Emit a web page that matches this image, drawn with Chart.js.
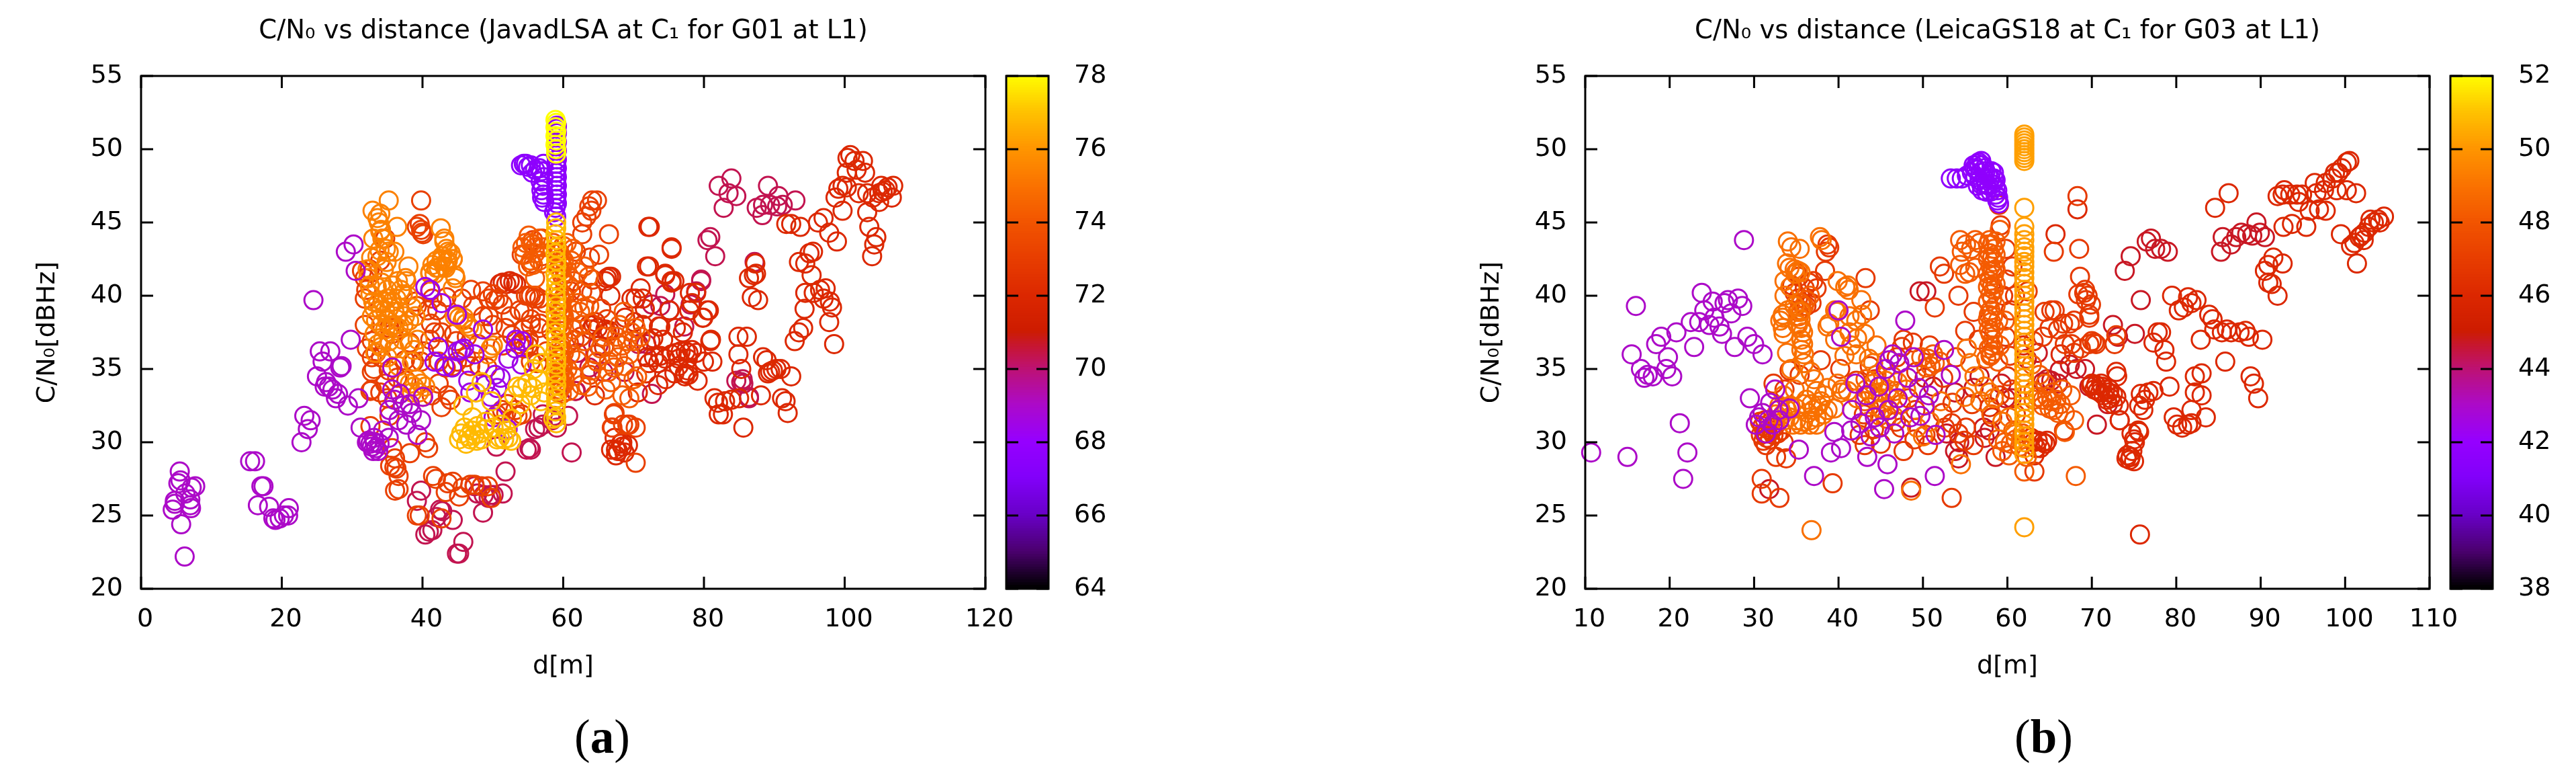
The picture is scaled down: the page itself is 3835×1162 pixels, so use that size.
<!DOCTYPE html>
<html>
<head>
<meta charset="utf-8">
<title>C/N0 vs distance</title>
<script src="https://cdn.jsdelivr.net/npm/chart.js@4"></script>
<style>
  body { margin: 0; background: #fff; width: 3835px; height: 1162px; position: relative; overflow: hidden; }
  canvas { position: absolute; top: 0; }
  .tag { position: absolute; top: 1056px; font: 71px "Liberation Serif"; color: #000; }
</style>
</head>
<body>
<canvas id="scatterA" width="1527" height="1040" style="left:0"></canvas>
<canvas id="barA" width="250" height="1040" style="left:1470px"></canvas>
<canvas id="scatterB" width="1527" height="1040" style="left:2150px"></canvas>
<canvas id="barB" width="220" height="1040" style="left:3620px"></canvas>
<div class="tag" style="left:855px">(<b>a</b>)</div>
<div class="tag" style="left:2999px">(<b>b</b>)</div>
<script>
//ticks
const cnTicks = [20, 25, 30, 35, 40, 45, 50, 55];
const distTicksA = [0, 20, 40, 60, 80, 100, 120];
const distTicksB = [10, 20, 30, 40, 50, 60, 70, 80, 90, 100, 110];
const barTicksA = [64, 66, 68, 70, 72, 74, 76, 78];
const barTicksB = [38, 40, 42, 44, 46, 48, 50, 52];

//colour box: position 0..1 and rgb
const stopPos = [0, 0.07, 0.143, 0.214, 0.286, 0.357, 0.43, 0.47, 0.5, 0.571, 0.643, 0.714, 0.786, 0.857, 0.929, 1];
const stopRgb = [[0,0,0],[75,0,110],[105,0,200],[130,0,250],[150,0,255],[172,10,200],[190,18,110],[198,22,50],[205,28,0],[220,40,0],[232,62,0],[242,85,0],[250,115,0],[255,150,0],[255,195,0],[255,255,0]];

/////panel a: [distance, C/N0] by colour level//////////////////////////////
const a_z78 = [[58.9,52],[59,51.8],[58.9,51.5],[59,51.2],[58.9,50.9],[59,50.6],[58.9,50.3],[59,50],[59,49.7]];
const a_z676 = [[54.7,49],[54,48.9],[55.4,48.9],[54.4,49],[55,48.8],[55.6,48.4],[56,48.6],[56.6,48.7],[57.2,49],[56.9,48.5],[57.2,48.1],[56.8,47.8],[57.1,47.5],[56.9,47.2],[57.2,46.9],[57,46.7],[57.3,46.4],[58.7,45.7],[59,45.4],[58.9,46],[59.1,46.3],[59,46.6],[59.1,46.9],[59,47.2],[59.1,47.5],[59,47.8],[59.1,48.1],[59,48.4],[59.1,48.7],[59,49],[59.1,49.3],[59,49.6],[59.1,49.9],[59,50.2],[59.1,50.5],[59,50.8],[59.1,51.1],[59.05,51.4],[59.1,51.6]];
const a_z768 = [[59,45],[59,44.6],[58.9,44.2],[59,43.8],[59,43.3],[58.9,42.9],[59,42.4],[59,42],[58.9,41.5],[59,41.1],[59,40.7],[58.9,40.2],[59,39.8],[59,39.3],[58.9,38.9],[59,38.4],[59,38],[58.9,37.5],[59,37.1],[59,36.6],[58.9,36.2],[59,35.7],[59,35.3],[58.9,34.8],[59,34.4],[59,33.9],[58.9,33.5],[59,33],[59,32.6],[58.9,32.1],[59,31.7],[59,31.3],[46.8,30.2],[46.2,29.9],[47.4,30.5],[48.1,30.6],[47.8,31.1],[48.4,30.2],[47.1,31.7],[49,31.4],[45.5,30.6],[45.2,30.2],[45.8,32.5],[46.5,30.4],[47.7,30.1],[51.6,30.2],[52.2,30.3],[51,30.3],[50.6,30.2],[51.9,30.8],[52.6,30.1],[55.7,33.7],[54.9,34],[56.4,34.3],[57.3,33.4],[54.1,33.7],[53.5,33.8],[55.4,33.2],[48.4,34.1],[47.6,33.4],[49.8,32.8],[53,33.2],[56.8,32.8],[58.6,31.6],[46,31],[47,30.8],[48.8,30.9],[50.1,31],[51.2,31.2],[52.7,31.6],[53.9,32.6],[55.8,35],[57,35.4],[56.1,36]];
const a_z69 = [[5.5,28],[5.6,27.4],[5.3,27.2],[7.7,27],[7.2,26.9],[6.3,26.5],[4.8,26],[4.8,25.8],[4.5,25.4],[7,26.1],[7.1,25.5],[7,25.7],[5.7,24.4],[6.2,22.2],[15.5,28.7],[16.2,28.7],[17.4,27],[17.1,27],[16.6,25.7],[18.2,25.6],[18.8,24.8],[19.1,24.7],[19.7,24.8],[20.3,25],[20.9,25],[21,25.5],[23.2,31.8],[24.1,31.5],[23.7,30.9],[22.8,30],[30.2,43.5],[29.1,43],[30.5,41.7],[24.5,39.7],[29.8,37],[25.4,36.2],[26.9,36.2],[25.8,35.5],[28.5,35.2],[28.3,35.1],[25,34.5],[26.3,34.1],[26.7,33.8],[28,33.3],[27.7,33],[29.4,32.5],[30.9,33],[27.2,33.6],[26.1,33.8],[31.2,31],[32.3,30.1],[33.1,30.3],[34.4,30.8],[32.8,29.7],[33.4,29.6],[33.7,29.4],[33,29.4],[32.1,30],[33.9,29.9],[35.2,30.3],[32.6,29.9],[33.2,30],[35.7,33.6],[36,32.9],[35.3,32.2],[37.2,32.5],[38.2,32.6],[38.5,32],[39.8,31.5],[37.7,31.2],[39.3,30.5],[36.6,31.5],[40.1,33.1],[36.8,33.3],[35.7,35.1]];
const a_z684 = [[42.2,36.5],[41.7,35.5],[44.2,35.1],[45.5,36.3],[45,36.2],[43.1,35.2],[45.9,36.4],[41.1,40.4],[40.4,40.6],[42.7,39.5],[44.9,38.7],[48.6,37.7],[47.4,36],[46.5,34.2],[46.8,33.4],[50.1,31.7],[50.3,34.6],[51.1,34.4],[50.6,33.7],[49.7,33.1],[53.3,37],[54.1,36.9],[52.2,35.7],[54.1,35.3],[52.1,30.9],[48.9,33.9],[53.2,36.4]];
const a_z754 = [[32.9,45.8],[35.2,46.5],[36.4,44.7],[34,45.6],[33.8,45],[34,44.4],[34.3,43.9],[33.6,45.3],[34.1,44.5],[34.4,43.9],[34.8,43.2],[42.6,44.6],[43.1,43.9],[43.4,43.2],[44.3,42.5],[42,42.4],[42.8,42.5],[43.4,42.3],[42,41.9],[41.1,41.5],[43.1,42],[44.6,41.4],[44.3,40.5],[38,42],[37.6,41.2],[35.2,43],[36,43],[32.2,41.8],[32.3,41.2],[32.5,40.7],[32.6,40.1],[33,39.6],[33.1,39.2],[33.7,39.5],[34.4,39.6],[35,39.8],[35.7,39.6],[36.3,39.8],[34.1,39],[34.7,39],[35.3,39.2],[36,38.9],[36.6,39.2],[37.2,40.1],[36.9,40.4],[37.7,41],[37.9,40],[38.5,39.2],[33.4,38.3],[34.1,38],[34.7,37.7],[34.4,37],[33.7,36.7],[35.3,36.9],[36,36.4],[36.6,37.8],[37.2,37],[38.2,36.7],[38.8,36.3],[39.3,37],[38.5,35.5],[39.2,34.3],[38.8,33.8],[39.8,34],[40.4,33.8],[38.5,33.4],[39.5,33.4],[40,33.1],[38.2,34],[41.4,42.1],[42.7,42.4],[43.6,42.4],[44.3,42.5],[42.3,41.9],[43.3,41.9],[44.7,41.2],[41.1,41.6],[41.7,41.5],[43.1,43.7],[43.6,43],[42.8,42.7],[44,42.9],[44.9,38.7],[45.2,38.5],[45.7,38.3],[46.2,38.1],[46.6,37.9],[47.1,37.7],[44.6,38.6],[45.9,38.5],[49.7,36.4],[49.3,36],[50,36.6],[36,38],[35,38.3],[37.5,38.6],[33.2,37.4],[35,35.8],[36.6,35.2],[32.8,38.6],[33.5,40.6],[34.2,40.9],[35,40.4],[35.8,40.7],[36.5,41],[34.5,41.8],[33.6,42.7],[34.9,42.3],[33.3,36.1],[34.1,36.5],[35.6,37.9],[36.3,38.4],[37.3,38],[38.1,38.3],[39,38.6],[33,43.9],[33.9,43.1],[32.7,42.6]];
const a_z742 = [[59.5,42.9],[59.8,42.6],[59.6,42.3],[59.9,42],[59.6,41.7],[59.8,41.4],[59.5,40],[59.8,39.7],[59.6,39.4],[59.9,39.1],[59.6,38.8],[59.8,38.5],[59.5,38.2],[59.8,37.9],[59.6,37.6],[59.7,36.6],[59.9,36.3],[59.6,36],[59.8,35.7],[59.5,35.4],[59.8,35.1],[59.6,34.8],[59.9,34.5],[59.6,34.2],[59.8,33.9],[59.5,33.6],[59.8,33.3],[60,33.9],[60.2,34.4],[59.3,33.4],[59.4,34.1],[59.4,34.7],[60,35.2],[59.4,35.8],[60.1,36.1],[59.4,36.4],[60,37.3],[59.4,38],[60.1,38.6],[59.4,39.2],[60.1,39.9],[59.4,40.4],[60,41.1],[59.4,41.9],[60.1,42.4],[59.4,43],[60,43.4],[55.1,44.1],[56.6,43.9],[54.2,43.3],[55.7,43.5],[57.1,43.3],[58.6,43.6],[56,42.9],[54.5,42.8],[56.6,42.4],[55.7,42.1],[55.4,43.6],[56,43.3],[54.7,43.6],[55.4,42.4],[57.1,42.2],[55,42],[56,41.2],[60.5,43.6],[61.4,43.2],[61.1,42.4],[60.3,41.6],[60.8,40.7],[62.1,39.5],[63,39.2],[63.7,39.3],[62.4,38.9],[61.4,39],[67.2,35.1],[67.8,35.8],[68.4,36.6],[69.1,36.9],[69.7,37.5],[70.3,37.8],[70,36.9],[69.4,36],[68.7,35.2],[66.5,35.5],[70,34.3],[70.5,34.5],[66.8,34.1],[68.4,33.2],[69.4,33],[71,37.2],[60.6,35],[61,36],[61.5,34.5],[62,35.6],[62.6,38],[63,36.9],[63.5,33.8],[64,34.9],[64.8,35.5],[65.3,36.4],[65.7,37.2],[66,33.6],[66.4,34.8],[67.1,36.5],[67.6,37.2],[68,38],[68.6,38.9],[62.6,33.9],[60.8,33.5],[61.4,37.7],[63.6,41.3],[63,42],[62.1,41.6]];
const a_z731 = [[39.8,46.5],[39.6,44.9],[39.9,44.3],[31.4,41.7],[32.9,41.6],[34,42.4],[41.1,40.3],[41.4,39.8],[39,39.6],[39.8,44.5],[40.1,44.2],[39.2,44.7],[34.7,43.9],[32.5,41.8],[31.8,41.2],[32,40.4],[31.8,39.8],[31.8,38],[32.8,36.9],[32.1,36.4],[32.8,35.8],[33.4,36.1],[34.1,35.8],[35.3,37.8],[35.7,37.4],[36,37.8],[38.2,36.8],[38.8,35.5],[39.8,35.5],[32.8,34.8],[32.6,33.5],[33.1,35],[35.2,34.9],[34.7,34],[35.3,31.8],[39.2,39.3],[40.7,39],[41.2,38.1],[41.7,37.5],[41.1,37],[42.7,37.5],[42.3,35.5],[43.3,35.1],[43.6,33.2],[42.3,34],[44.3,35.2],[44.9,35.5],[46.2,35.8],[46.8,35.2],[48.1,35.2],[48.6,40.3],[49.4,39.8],[50,40.1],[50.3,39.7],[50.8,39.8],[49.4,38.6],[50,38],[55.1,40],[53.8,39],[56,39.8],[55.4,38.4],[54.4,37.7],[55.1,37],[53.8,36.7],[54.4,36.4],[55.4,35.5],[54.1,42.8],[55.4,42.2],[55.7,43.8],[57,43.9],[57,42.7],[53.5,31.8],[51.9,32],[51.3,32.2],[50.6,31.9],[53.2,32.2],[54.1,31.9],[52.1,32.6],[61.8,43],[32.8,33.6],[32.6,31.1],[35.7,29.6],[38.2,29.25],[40.4,30],[40.8,29.6],[36.3,28.2],[36,28.3],[36.6,27.7],[36.6,26.8],[36.1,26.7],[41.5,27.7],[41.9,27.5],[43.6,27.2],[44.3,27.3],[43.3,26.6],[45.2,26.3],[45.7,26.9],[46.8,27.1],[47.4,27.1],[48.4,27],[49.3,27],[39.2,25],[39.6,25],[42.7,24.8],[49.8,26.2],[36.1,28.9],[35.4,28.4],[66.5,44.2],[62.7,44.2],[62.7,45],[64.1,46.5],[64.8,46.5],[63.7,46.1],[63.3,45.4],[63.8,42.6],[65.1,42.8],[64,45.8],[67.3,32],[67,31],[69.1,31.2],[70.3,31],[67.2,31.9],[66.9,31],[68.5,31.2],[69.4,31.2],[70.3,28.6],[62.5,37.2],[64.7,36],[63.8,34.6],[61.6,37],[60.8,36.8],[58.3,37.6],[57.6,36.2],[57.4,39.5],[56.7,38.1],[61.5,41],[64.2,41.1],[62.7,40.3],[64,40.2],[65.4,39.1],[66.2,38.4],[56.6,39.8],[55.4,40],[56,40],[54.7,40],[54.4,38.9],[55.4,38],[56.6,37.8],[54.4,36.9],[55,36.6],[56.3,35.4],[61.1,40.3],[60.2,40],[44.8,36.9],[46.3,37.2],[47.9,36.7],[48.6,38.6],[47.2,39.3],[45.6,39.8],[46.9,40.4],[42.1,39],[43.4,39.9],[44.5,37.4],[40.2,36.2],[37.5,35.6],[36.4,34.4],[34,33.4],[35,33],[37.7,34.2],[41.3,33.2],[42.7,32.4],[44,32.9],[49.2,35.1],[51.4,36.6],[51.8,37.8],[52.7,37.3],[52.5,38.6],[51.4,39.4]];
const a_z72 = [[51,40.8],[51.4,40.9],[51.9,40.8],[52.4,41],[52.9,40.9],[53.3,40.8],[66.5,41.3],[66.8,41.3],[66.2,41.2],[66,41],[66.7,40],[64.3,38],[63.7,38],[64.9,37.8],[64,37.7],[64.6,38.2],[66.2,37.5],[66,37.7],[66.6,37.6],[67.3,30.3],[67.5,29.5],[68.4,29.7],[67.8,29.4],[68.7,29.3],[69.2,29.8],[66.8,29.5],[68.4,30],[67.5,29.1],[68.2,29.9],[72.1,44.7],[75.4,43.3],[71.9,42],[74.5,41.5],[75.4,41],[75.8,41],[71,40.5],[71.3,39.8],[70.3,39.8],[71.6,39.1],[69.7,39.8],[73.8,37.9],[80.5,39],[79.9,38.5],[77,37.5],[71.9,35.8],[72.9,35.8],[73.8,35.9],[74.5,35.7],[75.4,36],[76.1,36.1],[76.7,36.2],[77.4,36.2],[77.8,36.1],[78.3,36.3],[78.9,36.1],[76.4,35.7],[77.7,35.7],[73.5,35.4],[72.2,35.4],[81,37],[81.2,35.5],[80,35.5],[77.3,34.7],[77.8,34.6],[79.1,34.2],[77.3,34.5],[76.4,35.2],[77.7,34.9],[72.3,44.7],[72.2,42],[74.5,41.4],[75.4,40.9],[78,40.2],[78.9,40.2],[77.9,39],[78.3,39.5],[75.1,39],[73.6,37.9],[75.4,43.2],[79.8,38.5],[80.7,39],[80.9,36.9],[84.9,37.2],[86.1,37.2],[84.9,36],[85.3,35],[88.1,33.2],[88.4,35.8],[88.9,35.6],[89.4,34.8],[90.3,35],[90.9,35],[92.4,34.5],[89.1,34.7],[89.8,34.9],[91.1,33],[91.6,32.8],[91.9,32],[85.6,31],[81.5,33],[82,32.7],[82.7,31.9],[82.1,31.9],[83,32.8],[83.9,32.9],[85,33],[91.7,44.9],[92.4,44.9],[93.7,44.7],[96.2,45],[97,45.3],[97.8,44.3],[98.9,43.7],[99.7,45.8],[98.7,46.7],[99.7,47.5],[100.3,47.4],[99.1,47.3],[100.8,49.6],[100.4,49.4],[101.4,49.2],[102.6,49.2],[101.7,48.6],[102.9,48.4],[100.3,48.4],[102,47],[103.2,47],[104,46.7],[105.2,47.5],[106.1,47.4],[106.9,47.5],[104.9,47],[106.7,46.7],[105.8,47.2],[105.4,47.1],[104.9,46.4],[103.2,45.7],[103.5,44.7],[104.5,44],[104.2,43.5],[103.9,42.7],[87.3,42.2],[87.1,41.4],[86.4,41.2],[87.4,41.5],[86.8,39.9],[87.7,39.7],[93.5,42.3],[94.4,42.2],[95,42.9],[95.5,43],[95.3,41.4],[94.4,40.2],[95.6,40.2],[96.5,40.4],[97.3,40.5],[97,39.8],[97.9,39.6],[98.2,39.2],[94.3,39.1],[97.8,38.2],[98.5,36.7],[92.9,36.9],[93.5,37.5],[94.1,37.8],[68.8,38.5],[70.1,38.2],[71.3,38],[72.8,37.1],[70.6,33.4],[71.8,34.7],[73.5,33.9],[74.6,34.3],[75.8,34.7],[65.8,36.5],[64.5,33.2],[72.4,36.9],[74.2,37],[76,37.8]];
const a_z703 = [[51.8,28],[51.4,26.5],[50.1,26.4],[49.7,26.4],[48.7,26.4],[49.4,26.2],[47.4,27],[47.8,26.5],[48.6,25.2],[39.8,26.7],[39.2,26],[42.5,25.4],[42.8,25.3],[42,24.9],[44.3,24.7],[40.4,23.7],[40.9,23.9],[41.4,24],[45.8,23.2],[44.9,22.4],[45.2,22.4],[50.5,29.7],[54.8,29.5],[55.2,29.6],[55.4,29.5],[61.2,29.3],[56.5,31],[57.1,31.2],[56,30.9],[59.1,31],[58.7,31.8],[60.7,31.8],[57.1,31.9],[61.8,33.5],[58.4,31.5],[61.7,33.5],[72.6,33.3],[62,36.1],[63.7,35.1],[65.7,34.8],[68.7,34.8],[65,36.6],[71.8,36.7],[70.7,36.7],[73.8,39.3],[72.6,39.4],[75.1,39],[74.5,40.1],[79.6,41],[78.9,40.3],[78.1,39.4],[77.2,37.9],[80.5,43.8],[80.9,44],[81.6,42.7],[87.2,42.3],[82.1,47.5],[83.9,48],[83.5,47],[84.6,46.8],[82.8,46],[89.1,47.5],[87.5,46],[88.3,45.5],[88.4,46.2],[89.4,46.2],[90.6,46.8],[90.4,46.1],[93,46.5],[91.2,46.2],[85.5,34.3],[86.4,33],[85.6,34],[84.6,34.2],[85.3,34.1],[86.4,33.1],[79.6,41.1]];

/////panel b: [distance, C/N0] by colour level//////////////////////////////
const b_z502 = [[62,51],[62,50.8],[62,50.6],[62,50.4],[62,50.2],[62,50],[62,49.8],[62,49.6],[62,49.4],[62,49.2],[62,46],[62,44.7],[62,44.2],[62,43.8],[62,43.3],[62,43],[62,42.7],[62,42.3],[62,42],[62,41.6],[62,41.2],[62,40.8],[62,40.4],[62,40],[62,39.6],[62,39.2],[62,38.8],[62,38.4],[62,38],[62,37.6],[62,37.2],[62,36.8],[62,36.4],[62,36],[62,35.6],[62,35.2],[62,34.8],[62,34.4],[62,34],[62,33.6],[62,33.2],[62,32.8],[62,32.4],[62,32],[62,31.6],[62,31.2],[62,30.8],[62,30.4],[62,30],[62,29.6],[62,29.2],[62,24.2]];
const b_z417 = [[53.3,48],[54,48],[54.6,48],[55.2,48.2],[56,48.9],[56.6,49.1],[57,48.9],[57.4,48.5],[56.3,48.6],[56.8,48.4],[56.2,48.1],[56.7,47.9],[57.1,47.7],[56.5,47.5],[58.4,48.4],[58.6,47.9],[58,48],[57.8,47.5],[57,47.2],[57.5,47.1],[58.2,47.6],[58.8,47.2],[58.6,46.9],[58.8,46.5],[59,46.3],[58.9,46.7],[55.8,48.4],[56.1,48.7],[56.4,49],[56.9,49.2],[57.3,48.7],[57.7,48.2],[57.3,48],[58.1,48.5],[58.4,48],[58.6,47.4],[58,47.1],[57.5,47.6],[56.9,47.6]];
const b_z43 = [[16,39.3],[28.8,43.8],[23.8,40.2],[25.1,39.6],[24.1,39],[26.9,39.7],[28.1,39.8],[26.5,39.5],[28.6,39.3],[27.3,38.8],[22.5,38.2],[23.5,38.2],[24.7,38],[25.9,37.9],[25.3,38.5],[26.2,37.4],[20.8,37.5],[19,37.2],[18.4,36.7],[22.9,36.5],[27.7,36.5],[29.2,37.2],[30,36.7],[31,36],[15.5,36],[19.8,35.8],[19.6,35],[16.6,35],[17,34.4],[18,34.5],[17.4,34.6],[20.3,34.5],[29.5,33],[21.2,31.3],[10.7,29.3],[15,29],[22.1,29.3],[21.6,27.5],[37.1,27.7],[45.4,26.8],[51.4,27.7],[35.3,29.5],[39.1,29.3],[40.3,29.6],[43.4,29],[45.8,28.5],[39.5,30.7],[30.6,31.7],[30.2,31.2],[31.4,30.6],[41.6,32.2],[43.8,30.4],[46.6,30.6],[48.5,31.7],[49.7,31.8],[47.9,38.3],[40,39],[40.3,37.2],[52.5,36.3],[53.3,34.6],[46,35.6],[47.2,35.4],[45.6,35],[48.2,34.4],[44.8,33.8],[42,34],[44.3,31.7],[32.5,33.6],[31.9,32.7],[33,31.5],[34.2,32.3],[31.7,31.5],[49.5,33.7],[50.2,32.5],[47,33],[51.5,30.5],[42.6,31.3],[41.5,30.8],[31,32],[32.2,31.2],[32.9,32.2],[46.4,36],[48.9,35.8],[50.7,33.2],[43.3,33.2],[45.9,32.2],[44.9,31]];
const b_z489 = [[34,43.7],[34.4,43.3],[35.4,43.2],[37.8,44],[38,43.8],[33.9,42.2],[34.2,41.9],[34.8,41.8],[35.5,41.6],[35.2,41.7],[34.9,41.5],[33.6,40],[33.4,38.7],[33.4,38.5],[33.1,38.3],[33.4,37.8],[33.5,37.4],[33.9,36.1],[35.6,37],[35.8,37.5],[35.6,37.8],[35.8,36.7],[35.6,36.3],[35.9,36],[35.5,38.4],[39.9,41],[41.1,40.7],[40.8,40.6],[41.2,40.4],[42.7,39.7],[39.6,39],[39.8,38.9],[41.3,38.6],[42.8,38.7],[42.1,38.3],[43.1,37.4],[41.3,37.5],[38.9,38.1],[38.7,37.9],[42.1,36],[44.1,35.4],[39.9,34],[40.4,33.6],[36.7,34.8],[37.1,34.3],[38.3,33.2],[39.5,32.3],[40.3,33.4],[41.1,33.5],[32.6,31.9],[33.4,31.9],[34.2,31.7],[35,31.5],[35.8,31.4],[36.6,31.5],[37.4,31.7],[38.2,31.9],[38.7,32.2],[37.4,31.2],[35.8,32.6],[36.8,32.6],[37.6,32.5],[37.9,32.8],[35,32.3],[33.9,32.2],[33.1,32.3],[36.4,32],[34.6,31.2],[33.6,31.5],[35.5,31.2],[36.6,31.2],[33,32.5],[34.3,32.5],[36.2,32.9],[37,32.2],[43.3,33.6],[44.1,34],[45,33.4],[45.6,34.2],[44.6,32.9],[46.2,33],[45.2,32.3],[47,34.1],[54.5,28.5],[36.8,24],[48.6,26.7],[55.2,36.4],[55.6,35.4],[56.1,34.5],[57.3,33.8],[57.9,33.4],[56.8,32.8],[58.4,33],[59.4,31.4],[60.2,31.7],[60.9,30.7],[61.6,30.2],[35.2,38],[35.5,38.9],[34.8,39.3],[34,39],[33.6,41],[34.3,40.6],[35.9,35.4],[34.4,35],[42.2,37.1],[41.5,36.6],[40.7,35.9],[39.6,37],[44.5,36.6],[43.6,35.7],[45.8,33.6],[46.5,31.8],[43.5,31.4],[42.2,33],[48,33.6],[49.3,31],[50,30.4],[50.8,31.4],[52.1,32.8],[55,33.1],[38.7,33.7],[37.4,33.5],[33.5,33.2],[34.8,33.6]];
const b_z482 = [[57.9,43.8],[58.2,43.5],[58.4,43.2],[57.9,42.9],[58.2,42.6],[58.4,42.3],[58,42],[58.2,41.7],[58.4,41.4],[57.9,41],[58.2,40.7],[58.4,40.4],[58,40.1],[58.2,39.8],[58,39],[58.3,38.6],[58.1,38.2],[58.4,37.8],[58,37.4],[58.3,37],[58.1,36.6],[58.4,36.2],[58,35.9],[57.7,43.5],[58.6,43.7],[57.7,42.5],[58.6,42.8],[57.7,41.5],[58.6,41.8],[57.7,40.6],[58.6,40.8],[57.7,39.6],[58.6,39.3],[57.7,38.4],[54.4,43.8],[55.1,43.5],[55.7,43.2],[54.6,43],[56.2,43.8],[56.7,43.6],[55,41.5],[55.5,41.6],[56.2,41.9],[54.4,42.1],[59.1,44.5],[50.6,35.7],[50.9,35.2],[51.4,35.4],[52,35.5],[49.8,35.8],[50.4,35.1],[51.2,36],[44.6,33],[45.3,32.7],[46,32.2],[46.7,33.5],[47.4,32.6],[43.8,33.3],[43.1,32.8],[45.7,31.6],[44.9,31.8],[58.9,30.2],[59.7,30],[60.4,29.9],[61,30.2],[61.5,29.7],[59.4,29.4],[60.2,29.1],[60.7,30.8],[61.8,30.6],[62.3,29],[63.1,32.9],[63.6,33.1],[64.2,32.9],[64.7,33.1],[65.2,32.8],[65.8,32.9],[66.3,32.6],[64.2,32.5],[65,32.3],[65.5,32.2],[66,32],[66.8,32],[67.9,31.5],[63.1,33.5],[66.8,30.7],[68.1,27.7],[62,28],[58.1,31.9],[57.8,37.7],[58.9,38.3],[59.7,38.3],[59.1,36.6],[57.8,36.4],[58.1,36],[57.5,35.7],[58.9,35.5],[57.8,38.7],[35.1,38.1],[35.3,38.6],[35.6,39],[35.9,39.3],[36.2,39.7],[36.6,40],[35.2,38.9],[35.5,39.5],[64.5,34],[65.4,33.4],[66.5,33.6],[67.5,33.2],[62.9,35.3],[63.8,34.6],[46.4,34.5],[44.5,34.6],[43.2,34.3]];
const b_z468 = [[38.5,43],[38.7,43.5],[38.9,43.3],[38.4,41.7],[35,41.6],[35.3,41.3],[34.5,40.7],[34.8,40.2],[35.2,39.8],[35.6,39.5],[36,40.5],[36.5,40.9],[37,41],[37.4,40.5],[36.8,39.5],[36.2,39.3],[43.2,41.2],[43.7,39],[47.7,37],[52,42],[52.5,41.5],[51.4,39.2],[54.2,40],[59.2,44.8],[59,46.2],[68.3,46.8],[65.5,43],[68.5,43.2],[68.6,41.3],[62.4,40.3],[59.8,43.2],[69.2,40.4],[69.1,40.2],[69.5,40],[69.3,39.7],[69.9,39.4],[69.7,38.5],[68.4,40.1],[69.7,38.7],[65.2,39],[65.6,39],[64.4,38.9],[67.4,38.1],[67.9,38.3],[66.6,38.1],[66,37.7],[65,37.8],[70,36.9],[70.5,36.7],[72.7,36.7],[72.9,37.3],[63.1,36.9],[64.2,37.2],[67.6,36.7],[68.7,36.4],[66.8,36.7],[67.9,36.1],[70.3,36.8],[69.7,36.7],[30.9,27.5],[30.9,26.5],[33,26.2],[39.3,27.2],[53.4,26.2],[32.6,29],[33.8,28.9],[47.7,29.4],[31.4,29.8],[31.2,30.6],[31.6,30.9],[32,30.8],[31,31.1],[32.3,30.5],[31.5,30.3],[43,31.9],[43.6,32.4],[44.2,30.9],[46.8,31.4],[42.5,30.5],[43.1,29.8],[45,29.9],[42.1,34.2],[40.2,35],[37.9,35.6],[35.4,34.6],[33.6,33.6],[34.2,34.9],[32.3,34],[48.3,33],[49.1,32.2],[50.3,30.5],[47.4,31],[49,30.2],[55.1,31],[53.4,31.3],[54.2,30.6],[54.9,30.1],[53.5,32.7],[55.8,32.6],[52.3,32],[56,29.8],[63.2,28],[66.7,30.8],[61,31.9],[60.5,33.6],[60,34.5],[60.3,35.9],[59.8,37.2],[59.1,33.2],[30.8,30.5],[31.1,30.1],[31.5,30.6],[31.9,30.2],[31.3,31.5],[31.8,31.3],[32.4,31],[32.8,30.6],[30.7,31.4],[33.2,30.8],[33.5,30],[44.3,34.3],[43.7,35.2],[46.9,35.8],[47.5,36.5],[48.8,36.8],[50.8,36.6],[52.4,34.4],[53.9,35.8],[55,37.6],[56,38.9],[56.6,37],[60.4,39],[60.9,40],[59.9,41.1],[60.6,42],[59.5,40],[49.2,34.8],[50.6,29.8],[52.6,31]];
const b_z46 = [[100.5,49.2],[100.2,49.1],[99.6,48.7],[99.2,48.4],[98.8,48.4],[98.5,48],[97.7,47.7],[96.4,47.7],[97.5,47.2],[96.6,47],[101.3,47],[100.2,47.2],[99,47.2],[92,46.8],[92.8,47.2],[92.6,46.9],[93.5,46.9],[94.3,46.9],[94.9,46.9],[94.5,46.4],[95.8,45.8],[96.9,45.9],[97.7,45.8],[95.4,44.7],[93.7,44.9],[92.7,44.7],[99.5,44.2],[100.7,43.4],[101.1,43.6],[101.4,42.2],[101.7,44],[102.2,43.8],[102.8,44.7],[103.4,45],[103.9,45.2],[104.6,45.4],[104.1,45],[103,45.2],[102.3,44.3],[101.9,44.1],[86.2,47],[84.6,46],[79.5,40],[80.3,39],[81.4,39.9],[82.4,39.7],[81.8,39.5],[80.9,39.2],[83.9,38.7],[84.3,38.4],[82.9,37],[84.5,37.7],[85.4,37.5],[86.5,37.5],[87.5,37.5],[88.2,37.6],[88.6,37.2],[90.2,37],[86,37.7],[85.8,35.5],[91.5,42.6],[92.6,42.2],[90.9,42.1],[90.5,41.7],[90.9,40.9],[91.3,40.8],[92,40],[88.8,34.5],[89.2,34],[89.7,33],[83,34.7],[82.2,34.5],[82.2,33.4],[83,33.2],[81.8,32.2],[83.5,31.7],[79.7,31.7],[80.1,31.2],[80.7,31],[81.4,31.2],[81.8,31.3],[79.2,33.8],[75.8,33.3],[76.7,33.4],[77.3,33.5],[75.6,32.5],[76.3,32.9],[76.1,32.2],[77.8,37.5],[78.2,37.5],[77.3,36.8],[78.6,36.3],[78.8,35.5],[72.9,34.8],[73,34.5],[72.5,32.6],[73.3,31.5],[75.6,30.7],[75,30.2],[74.6,29],[74.2,29.1],[74.8,29.4],[75,28.7],[74.1,28.9],[74.5,28.8],[75.7,23.7],[75.5,30.8],[74.7,30.6],[75.1,30],[73.3,31.5],[68.3,45.9],[69.9,33.9],[70.5,33.9],[71.2,33.8],[71.6,33.6],[72,33.4],[72.5,33.3],[71,33.4],[71.8,32.9],[72.9,33.1],[70,34],[71.1,34],[72.1,33.6],[73.2,32.5],[63.1,30],[63.6,30.1],[64.2,30],[63.4,29.6],[63.9,29.6],[64.5,29.9],[64.7,30.1],[62.8,30.3],[63.2,29.1],[58.2,31.7],[57.9,32.4],[65.7,44.2],[66.3,36],[61.9,36.6],[70.7,33.5],[71.4,33.2],[72.2,33],[70.3,33.6]];
const b_z447 = [[85.5,44],[85.3,43],[86.5,43.5],[87.1,44],[87.7,44.3],[88.4,44.2],[89,44.1],[89.5,45],[90.5,44],[89.9,44.3],[73.9,41.7],[74.6,42.7],[76.5,43.7],[77,43.9],[77.5,43.2],[78.2,43.2],[79,43],[75.8,39.7],[72.5,38],[73.1,37.2],[75.1,37.4],[70.6,31.2],[64.2,34.1],[65.2,34.2],[66,34],[64.7,34.3],[62.3,35.7],[63.6,36.1],[67.4,35.3],[69.2,35],[68.2,35],[69.7,33.8],[71.9,32.6],[59.8,33],[59.3,34],[58.6,29],[57.3,30.3],[57.9,30.8],[49.6,40.3],[50.4,40.3],[48.6,26.9],[31.8,26.8],[54.2,28.9],[53.8,29.4],[54.3,30],[52.8,30.6],[51.2,33.8],[50.2,34.4],[53.8,33.4],[56,33.7],[56.7,34.5],[57.2,31],[66.2,34.9],[60.5,33]];

//colour for a position 0..1 from the stops above
function paletteColor(t) {
  let i = 0;
  while (i < stopPos.length - 2 && t > stopPos[i + 1]) i++;
  const f = Math.min(1, Math.max(0, (t - stopPos[i]) / (stopPos[i + 1] - stopPos[i])));
  const c = stopRgb[i].map((v, k) => Math.round(v + (stopRgb[i + 1][k] - v) * f));
  return `rgb(${c[0]},${c[1]},${c[2]})`;
}

//inward ticks on all four sides and the frame
const frameTicks = {
  id: "frameTicks",
  afterDatasetsDraw(chart, _, opts) {
    const { ctx, chartArea: area, scales } = chart;
    const len = 18;
    ctx.save();
    ctx.strokeStyle = "#000";
    ctx.lineWidth = 3;
    ctx.beginPath();
    if (!opts.barOnly) {
      scales.x.ticks.forEach((t) => {
        const px = scales.x.getPixelForValue(t.value);
        ctx.moveTo(px, area.top); ctx.lineTo(px, area.top + len);
        ctx.moveTo(px, area.bottom); ctx.lineTo(px, area.bottom - len);
      });
    }
    scales.y.ticks.forEach((t) => {
      const py = scales.y.getPixelForValue(t.value);
      ctx.moveTo(area.left, py); ctx.lineTo(area.left + len, py);
      ctx.moveTo(area.right, py); ctx.lineTo(area.right - len, py);
    });
    ctx.stroke();
    ctx.strokeRect(area.left, area.top, area.right - area.left, area.bottom - area.top);
    ctx.restore();
  },
};

function render_scatter(id, titleText, distTicks, zMin, zMax, series) {
  const tickFont = { family: "DejaVu Sans", size: 38 };
  return new Chart(document.getElementById(id), {
    type: "scatter",
    plugins: [frameTicks],
    data: {
      datasets: series.map(([z, points]) => ({
        data: points.map(([d, c]) => ({ x: d, y: c })),
        borderColor: paletteColor((z - zMin) / (zMax - zMin)),
        backgroundColor: "transparent",
        pointStyle: "circle",
        pointRadius: 13.5,
        pointBorderWidth: 3,
        pointHoverRadius: 13.5,
        showLine: false,
        clip: false,
      })),
    },
    options: {
      responsive: false,
      animation: false,
      layout: { autoPadding: false, padding: { right: 60 } },
      plugins: {
        legend: { display: false },
        tooltip: { enabled: false },
        title: {
          display: true,
          fullSize: false,
          text: titleText,
          color: "#000",
          font: { family: "DejaVu Sans", size: 38.5, weight: "normal", lineHeight: 1.2 },
          padding: { top: 24, bottom: 42.8 },
        },
      },
      scales: {
        x: {
          type: "linear",
          min: distTicks[0],
          max: distTicks[distTicks.length - 1],
          afterBuildTicks: (s) => { s.ticks = distTicks.map((v) => ({ value: v })); },
          afterFit: (s) => { s.height = 164; },
          grid: { display: false, drawTicks: false },
          border: { display: false },
          ticks: { font: tickFont, color: "#000", padding: 23, labelOffset: 6, maxRotation: 0, autoSkip: false },
          title: { display: true, text: "d[m]", color: "#000", font: tickFont, padding: { top: 0, bottom: 25 } },
        },
        y: {
          type: "linear",
          min: 20,
          max: 55,
          afterBuildTicks: (s) => { s.ticks = cnTicks.map((v) => ({ value: v })); },
          afterFit: (s) => { s.width = 210; },
          grid: { display: false, drawTicks: false },
          border: { display: false },
          ticks: { font: tickFont, color: "#000", padding: 27, autoSkip: false },
          title: { display: true, text: "C/N₀[dBHz]", color: "#000", font: tickFont, padding: { top: 48, bottom: 0 } },
        },
      },
    },
  });
}

//colour box, stacked thin floating bars on the value scale
function render_bar(id, ticks, rightPad) {
  const zMin = ticks[0];
  const zMax = ticks[ticks.length - 1];
  const steps = 200;
  const dz = (zMax - zMin) / steps;
  const datasets = [];
  for (let i = 0; i < steps; i++) {
    const lo = zMin + i * dz;
    datasets.push({
      data: [[lo, Math.min(lo + dz * 1.5, zMax)]],
      backgroundColor: paletteColor((i + 0.5) / steps),
      barPercentage: 1,
      categoryPercentage: 1,
      grouped: false,
    });
  }
  return new Chart(document.getElementById(id), {
    type: "bar",
    plugins: [frameTicks],
    data: { labels: [""], datasets },
    options: {
      responsive: false,
      animation: false,
      layout: { autoPadding: false, padding: { left: 28, right: 0, top: 113, bottom: 164 } },
      plugins: { legend: { display: false }, tooltip: { enabled: false }, frameTicks: { barOnly: true } },
      scales: {
        x: { display: false },
        y: {
          position: "right",
          stacked: false,
          min: zMin,
          max: zMax,
          afterBuildTicks: (s) => { s.ticks = ticks.map((v) => ({ value: v })); },
          afterFit: (s) => { s.width = rightPad; },
          grid: { display: false, drawTicks: false },
          border: { display: false },
          ticks: { font: { family: "DejaVu Sans", size: 38 }, color: "#000", padding: 38, autoSkip: false },
        },
      },
    },
  });
}

render_scatter("scatterA", "C/N₀ vs distance (JavadLSA at C₁ for G01 at L1)", distTicksA, 64, 78, [
  [78, a_z78], [76.8, a_z768], [67.6, a_z676], [69, a_z69], [68.4, a_z684], [75.4, a_z754],
  [74.2, a_z742], [73.1, a_z731], [72, a_z72], [70.3, a_z703],
]);
render_bar("barA", barTicksA, 159);

render_scatter("scatterB", "C/N₀ vs distance (LeicaGS18 at C₁ for G03 at L1)", distTicksB, 38, 52, [
  [50.2, b_z502], [41.7, b_z417], [43, b_z43], [48.9, b_z489], [48.2, b_z482],
  [46.8, b_z468], [46, b_z46], [44.7, b_z447],
]);
render_bar("barB", barTicksB, 129);
</script>
</body>
</html>
